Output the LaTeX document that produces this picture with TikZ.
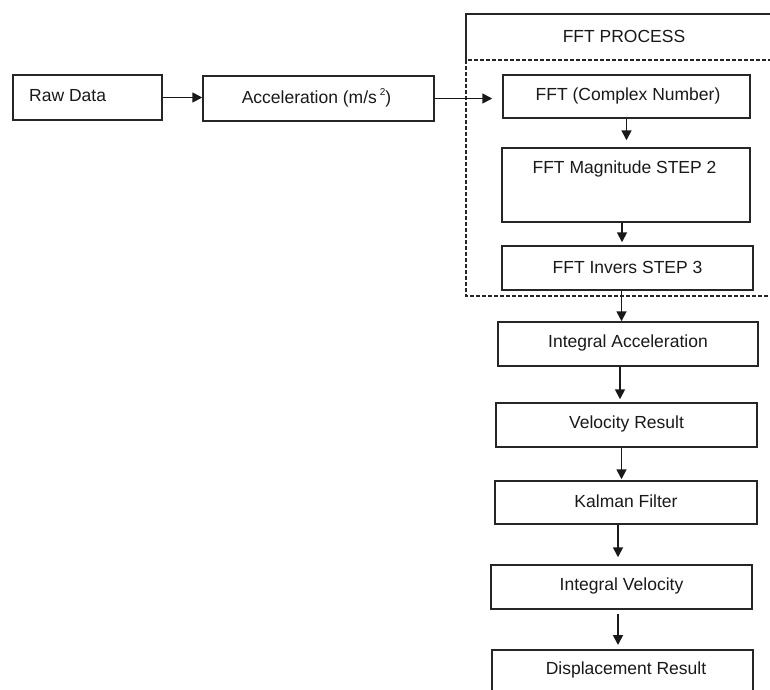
\documentclass[tikz,border=0pt]{standalone}
\usepackage{fontspec}
\setmainfont{Liberation Sans}
\usetikzlibrary{arrows.meta,calc}
\begin{document}
\begin{tikzpicture}[x=1pt,y=-1pt,
  box/.style={draw=black!85,line width=1.5pt,rectangle,inner sep=0pt},
  lbl/.style={font=\fontsize{17.5}{20}\selectfont,text=black!90,inner sep=0pt},
  arr/.style={draw=black!90,line width=1.7pt,-{Triangle[length=10pt,width=10pt]}},
  dashbox/.style={draw=black!85,line width=1.5pt,dash pattern=on 4pt off 2pt}]
\useasboundingbox (0,0) rectangle (770,689);
\clip (0,0) rectangle (770,689);
\fill[white] (0,0) rectangle (770,689);
% FFT process frame
\draw[draw=black!85,line width=1.5pt] (790,14) -- (466,14) -- (466,60);
\draw[dashbox] (790,60) -- (466,60) -- (466,296) -- (790,296);
\node[lbl] (proc) at (624,36) {FFT PROCESS};
% boxes
\node[box,minimum width=149pt,minimum height=45pt] (raw) at (87.5,97.5) {};
\node[lbl,anchor=west] (rawt) at (29,96) {Raw Data};
\node[box,minimum width=231pt,minimum height=45pt] (acc) at (318.5,98.5) {};
\node[lbl] (acct) at (316.5,97.5) {Acceleration (m/s\,\raisebox{0.45em}{\fontsize{10}{12}\selectfont 2})};
\node[box,minimum width=247pt,minimum height=43pt] (fft) at (626.5,96.5) {};
\node[lbl] (fftt) at (628,96) {FFT (Complex Number)};
\node[box,minimum width=248pt,minimum height=74pt] (mag) at (626,185) {};
\node[lbl] (magt) at (624.5,168.5) {FFT Magnitude STEP 2};
\node[box,minimum width=251pt,minimum height=44pt] (inv) at (627.5,268) {};
\node[lbl] (invt) at (627.5,267.5) {FFT Invers STEP 3};
\node[box,minimum width=260pt,minimum height=44pt] (ia) at (628,344) {};
\node[lbl] (iat) at (628,343) {Integral Acceleration};
\node[box,minimum width=261pt,minimum height=44pt] (vel) at (626.5,425) {};
\node[lbl] (velt) at (626.5,424) {Velocity Result};
\node[box,minimum width=262pt,minimum height=43pt] (kal) at (626,502.5) {};
\node[lbl] (kalt) at (626,501) {Kalman Filter};
\node[box,minimum width=261pt,minimum height=44pt] (iv) at (621.5,587) {};
\node[lbl] (ivt) at (621.5,586) {Integral Velocity};
\node[box,minimum width=261pt,minimum height=60pt,anchor=north] (disp) at (622.5,649) {};
\node[lbl] (dispt) at (626,670) {Displacement Result};
% connectors
\draw[arr] (raw.east) -- (raw.east -| acc.west);
\draw[arr,shorten >=10pt] (acc.east) -- (acc.east -| fft.west);
\draw[arr,shorten >=7pt] (fft.south) -- (fft.south |- mag.north);
\draw[arr,shorten >=3pt] ([xshift=-4pt]mag.south) -- ([xshift=-4pt]mag.south |- inv.north);
\draw[arr] ([xshift=-6pt]inv.south) -- ([xshift=-6pt]inv.south |- ia.north);
\draw[arr,shorten >=3pt] ([xshift=-8pt]ia.south) -- ([xshift=-8pt]ia.south |- vel.north);
\draw[arr,shorten >=1pt] ([xshift=-5pt]vel.south) -- ([xshift=-5pt]vel.south |- kal.north);
\draw[arr,shorten >=7pt] ([xshift=-8pt]kal.south) -- ([xshift=-8pt]kal.south |- iv.north);
\draw[arr,shorten <=4pt,shorten >=4pt] ([xshift=-3.5pt]iv.south) -- ([xshift=-3.5pt]iv.south |- disp.north);
\end{tikzpicture}
\end{document}
